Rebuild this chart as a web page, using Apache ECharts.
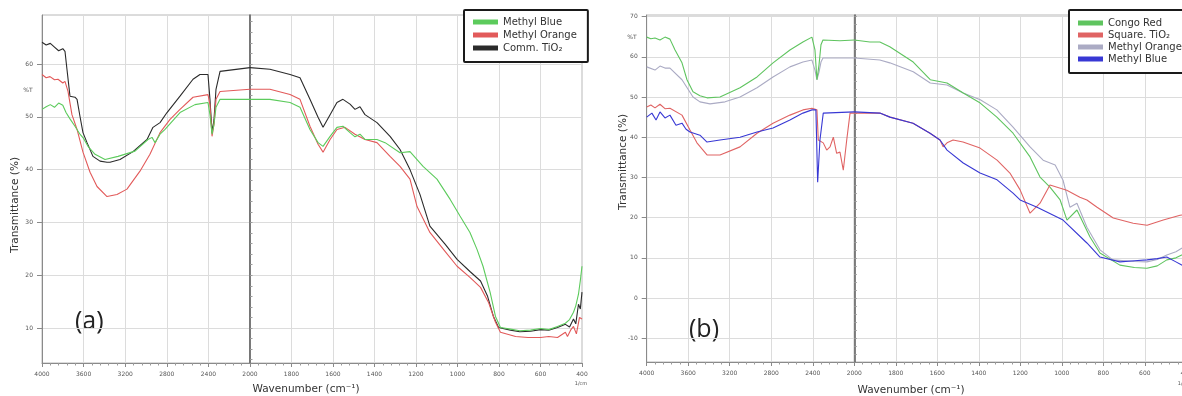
<!DOCTYPE html>
<html>
<head>
<meta charset="utf-8">
<script src="https://cdn.jsdelivr.net/npm/echarts@6/dist/echarts.min.js"></script>
<style>
html,body{margin:0;padding:0;background:#fff;}
#chart{width:1182px;height:396px;}
</style>
</head>
<body>
<div id="chart"></div>
<script>
// ---------- Panel (a) data : wavenumber (cm-1) / transmittance (%) ----------
const aBlueWn = [4000,3960,3920,3880,3840,3800,3769,3731,3683,3635,3600,3558,3490,3394,3269,3106,2981,2942,2913,2865,2817,2673,2529,2404,2385,2365,2346,2327,2288,2000,1904,1807,1759,1711,1672,1648,1614,1581,1552,1518,1494,1470,1446,1388,1349,1277,1229,1166,1099,1036,988,940,906,877,843,817,793,745,700,648,600,560,518,480,460,441,430,417,408,400];
const aBlueT  = [51.4,51.9,52.3,51.8,52.6,52.2,50.8,49.6,48.2,46.7,45.9,44.4,42.9,41.9,42.5,43.5,45.7,46.1,45.1,46.7,47.6,50.8,52.3,52.7,50.4,46.7,48.6,51.8,53.3,53.3,53.3,52.7,51.8,47.6,45.1,44.4,46.3,48.0,48.2,47.0,46.2,46.7,45.7,45.7,45.1,43.2,43.4,40.6,38.2,34.4,31.2,28.1,24.9,21.7,16.8,12.2,10.1,9.8,9.5,9.6,9.9,9.7,10.3,10.9,11.6,13.0,14.2,16.4,19.0,21.7];

const aOrangeWn = [4000,3960,3923,3880,3846,3800,3779,3750,3712,3663,3606,3538,3471,3375,3279,3183,3058,2962,2865,2769,2673,2548,2404,2385,2365,2346,2327,2288,2000,1904,1807,1759,1711,1672,1648,1614,1581,1542,1494,1446,1388,1325,1277,1229,1195,1133,1060,1002,940,889,851,817,793,720,660,600,560,518,480,470,455,441,427,412,400];
const aOrangeT  = [58.0,57.4,57.6,57.0,57.1,56.4,56.7,54.8,50.4,47.6,43.3,39.5,36.8,34.9,35.3,36.3,39.7,42.9,47.0,49.5,51.4,53.7,54.2,52.3,46.3,48.6,53.3,54.8,55.2,55.2,54.2,53.3,48.2,44.8,43.3,45.7,47.6,48.0,46.7,45.7,45.1,42.5,40.6,38.2,33.0,28.1,24.5,21.7,19.6,17.7,14.9,11.1,9.2,8.4,8.2,8.2,8.4,8.2,9.2,8.4,9.6,10.3,8.9,12.0,11.7];

const aTiO2Wn = [4000,3960,3920,3880,3840,3800,3779,3760,3731,3683,3663,3635,3606,3567,3510,3442,3375,3346,3250,3125,2990,2933,2865,2798,2673,2548,2481,2404,2385,2365,2346,2327,2288,2000,1904,1807,1759,1711,1672,1648,1614,1581,1552,1518,1494,1470,1446,1388,1325,1277,1229,1181,1133,1060,1002,940,889,855,827,802,745,700,648,600,560,518,480,460,441,430,417,408,400];
const aTiO2T  = [64.1,63.6,63.9,63.2,62.5,62.9,62.4,59.0,53.9,53.7,53.3,50.1,47.0,45.1,42.5,41.6,41.4,41.4,41.9,43.4,45.7,48.0,48.9,50.8,53.9,57.1,58.0,58.0,53.3,47.0,49.5,55.2,58.6,59.3,59.0,58.0,57.4,53.3,49.9,48.0,50.4,52.7,53.3,52.4,51.4,51.9,50.4,48.9,46.3,43.8,40.0,35.3,29.3,25.9,23.0,20.7,18.9,16.0,12.2,10.1,9.6,9.3,9.4,9.7,9.6,10.1,10.7,10.2,11.7,10.8,14.5,13.6,16.8];

// ---------- Panel (b) data ----------
const bCongoWn = [4000,3960,3920,3872,3824,3776,3727,3660,3612,3554,3487,3419,3294,3101,2937,2783,2620,2495,2408,2379,2360,2340,2321,2302,2138,2000,1925,1877,1829,1716,1634,1553,1475,1393,1313,1235,1153,1105,1057,1008,975,927,864,816,720,650,590,540,494,450,422,400];
const bCongoT  = [64.9,64.5,64.7,64.2,64.9,64.4,61.7,58.5,54.3,51.3,50.3,49.8,50.0,52.3,55.0,58.5,61.7,63.7,64.9,61.7,54.3,58.0,63.0,64.2,64.0,64.2,63.7,63.7,62.5,58.7,54.3,53.5,51.0,48.5,45.0,41.0,35.1,30.1,27.6,24.4,19.4,21.9,15.2,11.2,8.2,7.6,7.4,8.0,9.5,10.0,10.7,11.0];

const bSquareWn = [4000,3960,3920,3872,3824,3776,3660,3583,3516,3419,3294,3101,2937,2783,2620,2495,2408,2360,2347,2299,2266,2234,2202,2170,2138,2106,2073,2041,2000,1877,1828,1717,1635,1587,1572,1553,1524,1476,1394,1312,1250,1201,1153,1105,1057,976,913,879,830,752,656,589,511,430,400];
const bSquareT  = [47.5,48.0,47.3,48.2,47.1,47.2,45.5,41.8,38.6,35.6,35.6,37.6,41.0,43.5,45.5,46.8,47.2,46.8,39.3,38.6,36.8,37.6,40.0,36.0,36.3,31.8,39.3,46.0,46.0,46.0,45.0,43.5,41.0,39.3,37.6,38.6,39.3,38.8,37.3,34.3,31.1,26.9,21.1,23.6,28.1,26.8,25.1,24.4,22.6,19.9,18.6,18.1,19.4,20.6,20.8];

const bOrangeWn = [4000,3920,3872,3824,3776,3660,3554,3487,3390,3245,3101,2937,2783,2620,2495,2408,2379,2360,2340,2321,2302,2000,1877,1829,1716,1634,1553,1475,1393,1313,1235,1153,1090,1032,994,961,927,879,816,754,650,590,540,494,450,422,400];
const bOrangeT  = [57.5,56.7,57.7,57.2,57.2,54.3,50.0,48.8,48.3,48.8,50.0,52.3,55.0,57.5,58.7,59.2,56.7,54.3,56.2,58.7,59.7,59.7,59.2,58.5,56.3,53.5,53.0,51.0,49.3,46.8,42.5,37.6,34.3,33.1,29.3,22.6,23.6,17.6,12.0,9.5,9.1,9.0,9.6,10.7,11.5,12.4,12.6];

const bBlueWn = [4000,3950,3910,3872,3824,3776,3718,3660,3621,3583,3487,3419,3294,3101,2937,2783,2620,2495,2408,2370,2353,2331,2299,2000,1877,1828,1717,1635,1587,1553,1475,1394,1312,1235,1201,1119,994,879,816,720,650,589,540,494,450,422,400];
const bBlueT  = [45.0,46.0,44.3,46.3,44.8,45.5,43.0,43.5,42.0,41.3,40.5,38.8,39.3,40.0,41.3,42.3,44.3,46.0,46.8,46.8,28.8,39.3,46.0,46.3,46.0,45.0,43.5,41.0,39.3,36.8,33.6,31.1,29.4,26.1,24.4,22.6,19.4,13.7,10.2,9.0,9.3,9.5,9.8,10.2,9.0,8.2,8.5];

// ---------- axes ----------
const xTicksHigh = {min:2000, max:4000, step:400};
const xTicksLow  = {min:400, max:2000, step:200};
const aYRange = [3.38, 69.27];
const bYRange = [-15.9, 70.4];
const aYLabels = [10,20,30,40,50,60];
const bYLabels = [-10,0,10,20,30,40,50,60,70];
const aYMinor = [4,6,8,10,12,14,16,18,20,22,24,26,28,30,32,34,36,38,40,42,44,46,48,50,52,54,56,58,60,62,64,66,68];
const bYMinor = [-14,-12,-10,-8,-6,-4,-2,0,2,4,6,8,10,12,14,16,18,20,22,24,26,28,30,32,34,36,38,40,42,44,46,48,50,52,54,56,58,60,62,64,66,68,70];

// ---------- build option ----------
function split(wn, t){
  const hi=[], lo=[];
  wn.forEach((w,i)=>{ if(w>=2000) hi.push([w,t[i]]); if(w<=2000) lo.push([w,t[i]]); });
  return [hi, lo];
}
const FONT = 'DejaVu Sans';
const grids = [
  {left:42, top:15, width:208, height:348},
  {left:250, top:15, width:332, height:348},
  {left:646.7, top:15, width:207.6, height:347},
  {left:854.3, top:15, width:332, height:347}
].map(g=>Object.assign({show:true, borderColor:'#b8b8b8', borderWidth:1, containLabel:false, outerBoundsMode:'none'}, g));

function xAx(gi, r, hideVal){
  return {
    type:'value', gridIndex:gi, min:r.min, max:r.max, interval:r.step, inverse:true,
    axisLine:{show:true, onZero:false, lineStyle:{color:'#8a8a8a', width:1}},
    axisTick:{show:true, length:4, lineStyle:{color:'#8a8a8a'}},
    minorTick:{show:true, splitNumber:5, length:2.5, lineStyle:{color:'#9a9a9a'}},
    splitLine:{show:true, lineStyle:{color:'#dcdcdc', width:1}},
    axisLabel:{fontSize:6, color:'#555', fontFamily:FONT, margin:8, hideOverlap:false,
      formatter: v => (v===hideVal ? '' : String(v))}
  };
}
const xAxes = [xAx(0,xTicksHigh,null), xAx(1,xTicksLow,2000), xAx(2,xTicksHigh,null), xAx(3,xTicksLow,2000)];

function yMain(gi, range, labels){
  return {type:'value', gridIndex:gi, min:range[0], max:range[1],
    axisLine:{show:true, onZero:false, lineStyle:{color:'#8a8a8a'}},
    axisTick:{show:true, length:5, customValues:labels, lineStyle:{color:'#8a8a8a'}},
    axisLabel:{show:true, customValues:labels, fontSize:6, color:'#555', fontFamily:FONT, margin:9},
    splitLine:{show:true, lineStyle:{color:'#dcdcdc'}}};
}
function ySide(gi, range, labels){
  return {type:'value', gridIndex:gi, min:range[0], max:range[1],
    axisLine:{show:true, onZero:false, lineStyle:{color:'#5a5a5a', width:1.5}},
    axisTick:{show:false, customValues:labels},
    axisLabel:{show:false},
    splitLine:{show:true, lineStyle:{color:'#dcdcdc'}}};
}
function yMinor(gi, range, vals){
  return {type:'value', gridIndex:gi, min:range[0], max:range[1],
    axisLine:{show:false},
    axisTick:{show:true, length:2.5, customValues:vals, lineStyle:{color:'#9a9a9a'}},
    axisLabel:{show:false}, splitLine:{show:false}};
}
const yAxes = [yMain(0,aYRange,aYLabels), ySide(1,aYRange,aYLabels), yMain(2,bYRange,bYLabels), ySide(3,bYRange,bYLabels),
  yMinor(0,aYRange,aYMinor), yMinor(2,bYRange,bYMinor)];

const seriesDefs = [
  {name:'a:Comm. TiO₂', wn:aTiO2Wn, t:aTiO2T, color:'#2b2b2b', panel:0},
  {name:'a:Methyl Orange', wn:aOrangeWn, t:aOrangeT, color:'#e25a5a', panel:0},
  {name:'a:Methyl Blue', wn:aBlueWn, t:aBlueT, color:'#5ccb5c', panel:0},
  {name:'b:Methyl Orange', wn:bOrangeWn, t:bOrangeT, color:'#ababc4', panel:1},
  {name:'b:Congo Red', wn:bCongoWn, t:bCongoT, color:'#5fc45f', panel:1},
  {name:'b:Square. TiO₂', wn:bSquareWn, t:bSquareT, color:'#e06464', panel:1},
  {name:'b:Methyl Blue', wn:bBlueWn, t:bBlueT, color:'#3838d4', panel:1}
];
const series = [];
seriesDefs.forEach(d=>{
  const [hi, lo] = split(d.wn, d.t);
  const base = d.panel*2;
  [[hi,base],[lo,base+1]].forEach(([data,idx])=>{
    series.push({type:'line', name:d.name, xAxisIndex:idx, yAxisIndex:idx, data:data,
      symbol:'none', showSymbol:false, smooth:false, animation:false,
      lineStyle:{color:d.color, width:1.1}, itemStyle:{color:d.color}});
  });
});

function legendOf(left, names, gap, padding){
  return {show:true, orient:'vertical', left:left, top:10, data:names,
    formatter: n => n.slice(2), icon:'rect', itemWidth:25, itemHeight:5, itemGap:gap,
    padding:padding, borderColor:'#1a1a1a', borderWidth:2, borderRadius:1, backgroundColor:'#fff',
    textStyle:{fontSize:10, color:'#333', fontFamily:FONT}, selectedMode:false};
}

const titleStyle = {fontSize:10.5, fill:'#333', fontFamily:FONT};
const option = {
  animation:false,
  backgroundColor:'#fff',
  grid: grids,
  xAxis: xAxes,
  yAxis: yAxes,
  legend: [
    legendOf(464, ['a:Methyl Blue','a:Methyl Orange','a:Comm. TiO₂'], 3, [7,11,9,9]),
    legendOf(1069, ['b:Congo Red','b:Square. TiO₂','b:Methyl Orange','b:Methyl Blue'], 2, [8,11,9,9])
  ],
  series: series,
  graphic: [
    {type:'text', left:75, top:309, style:{text:'(a)', fontSize:25, fill:'#222', fontFamily:'Open Sans'}},
    {type:'text', left:689, top:317, style:{text:'(b)', fontSize:25, fill:'#222', fontFamily:'Open Sans'}},
    {type:'text', x:306, y:389, style:Object.assign({text:'Wavenumber (cm⁻¹)', align:'center', verticalAlign:'middle'}, titleStyle)},
    {type:'text', x:911, y:390, style:Object.assign({text:'Wavenumber (cm⁻¹)', align:'center', verticalAlign:'middle'}, titleStyle)},
    {type:'text', x:15, y:205, rotation:Math.PI/2, style:Object.assign({text:'Transmittance (%)', align:'center', verticalAlign:'middle'}, titleStyle)},
    {type:'text', x:623, y:162, rotation:Math.PI/2, style:Object.assign({text:'Transmittance (%)', align:'center', verticalAlign:'middle'}, titleStyle)},
    {type:'text', x:28, y:90, style:{text:'%T', fontSize:6, fill:'#555', fontFamily:FONT, align:'center', verticalAlign:'middle'}},
    {type:'text', x:632, y:37, style:{text:'%T', fontSize:6, fill:'#555', fontFamily:FONT, align:'center', verticalAlign:'middle'}},
    {type:'text', x:581, y:384, style:{text:'1/cm', fontSize:5, fill:'#555', fontFamily:FONT, align:'center', verticalAlign:'middle'}},
    {type:'text', x:1184, y:384, style:{text:'1/cm', fontSize:5, fill:'#555', fontFamily:FONT, align:'center', verticalAlign:'middle'}}
  ]
};
const chart = echarts.init(document.getElementById('chart'), null, {renderer:'canvas'});
chart.setOption(option);
</script>
</body>
</html>
